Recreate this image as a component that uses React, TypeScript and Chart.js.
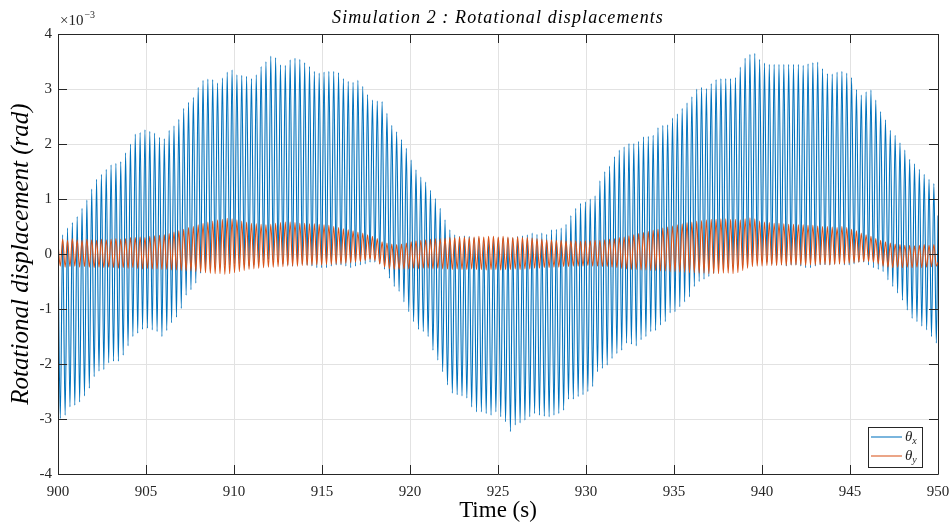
import React, { useEffect, useRef } from "react";
import { Chart, registerables } from "chart.js";

Chart.register(...registerables);

// ---------- data (values in units of 1e-3 rad, as read on the axis) ----------
const xTickValues = [900, 905, 910, 915, 920, 925, 930, 935, 940, 945, 950];
const yTickValues = [-4, -3, -2, -1, 0, 1, 2, 3, 4];

const titleText = "Simulation 2 : Rotational displacements";
const xAxisLabel = "Time (s)";
const yAxisLabel = "Rotational displacement (rad)";
const seriesSymbol = "θ";
const seriesSubscripts = ["x", "y"];
const yScaleExponent = "−3";

const timeStart = 900;
const timeEnd = 950;
const firstTroughTime = 900.13;
const firstPeakTime = 900.265;
const cyclePeriod = 0.275;

// theta_x: value at start, successive peaks and troughs of each cycle, value at end
const thetaXStart = 0.25;
const thetaXEnd = 0.7;
const thetaXPeaks = [
  0.35, 0.47, 0.57, 0.68, 0.83, 0.98, 1.18, 1.36, 1.45, 1.54, 1.62, 1.65, 1.68, 1.84, 2.0,
  2.18, 2.21, 2.26, 2.23, 2.2, 2.12, 2.1, 2.25, 2.33, 2.45, 2.65, 2.76, 2.85, 3.03, 3.16,
  3.18, 3.17, 3.11, 3.2, 3.31, 3.35, 3.26, 3.25, 3.23, 3.19, 3.26, 3.41, 3.5, 3.6, 3.57,
  3.44, 3.43, 3.53, 3.56, 3.54, 3.48, 3.41, 3.32, 3.29, 3.31, 3.32, 3.32, 3.3, 3.19, 3.14,
  3.12, 3.16, 3.05, 2.9, 2.8, 2.78, 2.77, 2.56, 2.34, 2.22, 2.08, 1.92, 1.71, 1.53, 1.4,
  1.31, 1.16, 1.01, 0.83, 0.62, 0.44, 0.35, 0.32, 0.33, 0.32, 0.29, 0.29, 0.25, 0.25, 0.28,
  0.29, 0.29, 0.29, 0.29, 0.32, 0.33, 0.35, 0.38, 0.36, 0.38, 0.36, 0.44, 0.45, 0.47, 0.54,
  0.7, 0.83, 0.92, 0.95, 1.0, 1.06, 1.33, 1.5, 1.6, 1.77, 1.89, 1.95, 2.01, 2.01, 2.05,
  2.13, 2.14, 2.16, 2.3, 2.34, 2.35, 2.47, 2.55, 2.65, 2.75, 2.86, 3.0, 3.03, 3.01, 3.1,
  3.17, 3.19, 3.19, 3.19, 3.21, 3.4, 3.56, 3.63, 3.65, 3.54, 3.47, 3.45, 3.45, 3.45, 3.45,
  3.45, 3.45, 3.45, 3.43, 3.46, 3.48, 3.49, 3.37, 3.28, 3.27, 3.31, 3.32, 3.29, 3.21, 2.99,
  2.89, 2.95, 2.98, 2.8, 2.59, 2.44, 2.25, 2.16, 2.02, 1.89, 1.72, 1.64, 1.54, 1.45, 1.36, 1.28,
];
const thetaXTroughs = [
  -2.99, -2.93, -2.78, -2.75, -2.69, -2.58, -2.44, -2.23, -2.13, -2.1, -1.98, -1.95, -1.95, -1.84, -1.67,
  -1.5, -1.44, -1.37, -1.35, -1.38, -1.41, -1.5, -1.39, -1.25, -1.15, -0.99, -0.75, -0.65, -0.53, -0.35,
  -0.3, -0.28, -0.25, -0.22, -0.2, -0.2, -0.18, -0.18, -0.2, -0.22,
  -0.2, -0.15, -0.12, -0.1, -0.12, -0.15, -0.18, -0.2, -0.22, -0.2,
  -0.18, -0.2, -0.22, -0.25, -0.25, -0.25, -0.22, -0.2, -0.2, -0.22,
  -0.25, -0.22, -0.2, -0.18, -0.15, -0.15, -0.18, -0.28,
  -0.44, -0.59, -0.68, -0.87, -1.05, -1.23, -1.37, -1.41, -1.5, -1.75, -1.93, -2.14,
  -2.38, -2.53, -2.56, -2.58, -2.62, -2.78, -2.87, -2.87, -2.9, -2.93, -2.87, -2.96,
  -3.05, -3.23, -3.11, -3.07, -3.02, -2.96, -2.9, -2.93, -2.95, -2.96, -2.93, -2.9, -2.84, -2.64, -2.64,
  -2.59, -2.56, -2.5, -2.41, -2.14, -2.08, -2.02, -1.9, -1.81, -1.75, -1.62, -1.64, -1.67, -1.56, -1.5,
  -1.41, -1.39, -1.29, -1.23, -1.07, -1.05, -0.96, -0.87, -0.78, -0.59, -0.5, -0.46, -0.41, -0.35,
  -0.3, -0.28, -0.25, -0.22, -0.2, -0.2, -0.18, -0.15, -0.12, -0.12,
  -0.15, -0.18, -0.2, -0.2, -0.22, -0.2, -0.2, -0.22, -0.25, -0.25,
  -0.22, -0.2, -0.2, -0.2, -0.18, -0.18, -0.2, -0.2, -0.18, -0.15,
  -0.15, -0.2, -0.25, -0.28,
  -0.32, -0.47, -0.59, -0.71, -0.84, -1.02, -1.17, -1.23, -1.31, -1.38, -1.5, -1.62,
];

// theta_y
const thetaYStart = 0.2;
const thetaYEnd = -0.15;
const thetaYPeaks = [
  0.27, 0.25, 0.28, 0.26, 0.25, 0.27, 0.26, 0.25, 0.27, 0.26, 0.27, 0.28, 0.27,
  0.28, 0.3, 0.3, 0.31, 0.3, 0.32, 0.33,
  0.34, 0.35, 0.37, 0.4, 0.42, 0.45, 0.48, 0.5,
  0.53, 0.56, 0.58, 0.6, 0.62, 0.63, 0.65,
  0.64, 0.62, 0.6, 0.58, 0.56, 0.55, 0.54, 0.53,
  0.54, 0.56, 0.57, 0.58, 0.58, 0.57, 0.56, 0.56, 0.55, 0.55, 0.54, 0.53, 0.52, 0.5,
  0.48, 0.46, 0.44, 0.42, 0.4, 0.38, 0.35,
  0.32, 0.28, 0.22, 0.2, 0.18,
  0.17, 0.18, 0.2, 0.22, 0.24, 0.25, 0.26,
  0.27, 0.28, 0.28, 0.29, 0.3, 0.3, 0.31, 0.31, 0.3, 0.31, 0.32, 0.31, 0.32, 0.32, 0.31, 0.32, 0.31, 0.3, 0.31, 0.3, 0.3, 0.29,
  0.28, 0.27, 0.26, 0.26, 0.25, 0.25, 0.24, 0.24, 0.24, 0.23, 0.24, 0.24, 0.25,
  0.25, 0.26, 0.27, 0.28, 0.3, 0.31, 0.33, 0.35,
  0.37, 0.39, 0.41, 0.43, 0.45, 0.47, 0.49, 0.51, 0.53, 0.55,
  0.57, 0.58, 0.6, 0.61, 0.62, 0.63, 0.63, 0.64, 0.64, 0.63, 0.63, 0.62,
  0.64, 0.66, 0.64, 0.6,
  0.58, 0.57, 0.56, 0.56, 0.55, 0.54, 0.54, 0.53, 0.53, 0.52, 0.52, 0.51, 0.5, 0.5, 0.49, 0.48, 0.5, 0.48,
  0.45, 0.42, 0.38, 0.35, 0.32, 0.28, 0.25, 0.22, 0.2,
  0.18, 0.17, 0.16, 0.16, 0.15, 0.16, 0.17, 0.16, 0.17,
];
const thetaYTroughs = [
  -0.22, -0.24, -0.23, -0.22, -0.24, -0.23, -0.24, -0.25, -0.24, -0.25, -0.24, -0.25, -0.26,
  -0.25, -0.26, -0.25, -0.26, -0.27, -0.26, -0.27,
  -0.27, -0.28, -0.28, -0.29, -0.29, -0.3, -0.31, -0.31,
  -0.32, -0.33, -0.34, -0.35, -0.36, -0.36, -0.37,
  -0.36, -0.34, -0.32, -0.3, -0.28, -0.27, -0.26, -0.25,
  -0.24, -0.24, -0.23, -0.23, -0.22, -0.22, -0.22, -0.21, -0.21, -0.2, -0.2, -0.2, -0.19, -0.19,
  -0.18, -0.18, -0.17, -0.16, -0.15, -0.14, -0.12,
  -0.1, -0.12, -0.18, -0.24, -0.27,
  -0.28, -0.28, -0.27, -0.27, -0.26, -0.27, -0.26,
  -0.26, -0.27, -0.26, -0.27, -0.27, -0.28, -0.27, -0.28, -0.28, -0.27, -0.28, -0.28, -0.29, -0.28, -0.28, -0.29, -0.28, -0.28, -0.27, -0.28, -0.27, -0.27,
  -0.26, -0.26, -0.25, -0.25, -0.24, -0.24, -0.23, -0.23, -0.22, -0.22, -0.22, -0.21, -0.22,
  -0.22, -0.23, -0.23, -0.24, -0.25, -0.26, -0.27, -0.28,
  -0.28, -0.29, -0.29, -0.3, -0.3, -0.31, -0.31, -0.32, -0.32, -0.33,
  -0.33, -0.34, -0.34, -0.35, -0.35, -0.36, -0.36, -0.36, -0.35, -0.35, -0.36, -0.34,
  -0.3, -0.26, -0.23, -0.22,
  -0.22, -0.21, -0.21, -0.21, -0.2, -0.21, -0.2, -0.2, -0.2, -0.21, -0.2, -0.2, -0.19, -0.19, -0.2, -0.19, -0.18, -0.18,
  -0.17, -0.16, -0.15, -0.14, -0.14, -0.15, -0.18, -0.22, -0.24,
  -0.25, -0.24, -0.25, -0.24, -0.25, -0.24, -0.25, -0.24, -0.23, -0.22,
];

// ---------- styling ----------
const BLUE = "#0072BD";
const ORANGE = "#D95319";
const AXIS_COLOR = "#262626";
const GRID_COLOR = "#e2e2e2";
const SERIF = "'Liberation Serif', 'DejaVu Serif', serif";
const W = 951;
const H = 524;

type Pt = { x: number; y: number };

function buildSeries(start: number, peaks: number[], troughs: number[], end: number): Pt[] {
  const pts: Pt[] = [{ x: timeStart, y: start }];
  for (let i = 0; i < troughs.length; i++) {
    pts.push({ x: firstTroughTime + i * cyclePeriod, y: troughs[i] });
    if (i < peaks.length) pts.push({ x: firstPeakTime + i * cyclePeriod, y: peaks[i] });
  }
  pts.push({ x: timeEnd, y: end });
  return pts;
}

const decorPlugin = {
  id: "matlabDecor",
  afterDatasetsDraw(chart: any) {
    const { ctx, chartArea } = chart;
    const { left, right, top, bottom } = chartArea;
    const xs = chart.scales.x;
    const ys = chart.scales.y;
    ctx.save();
    // box
    ctx.strokeStyle = AXIS_COLOR;
    ctx.lineWidth = 1;
    ctx.beginPath();
    ctx.rect(Math.round(left) + 0.5, Math.round(top) + 0.5, Math.round(right - left), Math.round(bottom - top));
    ctx.stroke();
    // inward ticks
    const tl = 9;
    ctx.beginPath();
    for (const v of xTickValues) {
      const px = Math.round(xs.getPixelForValue(v)) + 0.5;
      ctx.moveTo(px, bottom);
      ctx.lineTo(px, bottom - tl);
      ctx.moveTo(px, top);
      ctx.lineTo(px, top + tl);
    }
    for (const v of yTickValues) {
      const py = Math.round(ys.getPixelForValue(v)) + 0.5;
      ctx.moveTo(left, py);
      ctx.lineTo(left + tl, py);
      ctx.moveTo(right, py);
      ctx.lineTo(right - tl, py);
    }
    ctx.stroke();

    // legend
    const lx = 868, ly = 427, lw = 54, lh = 40;
    ctx.fillStyle = "#ffffff";
    ctx.fillRect(lx, ly, lw, lh);
    ctx.strokeStyle = AXIS_COLOR;
    ctx.lineWidth = 1;
    ctx.strokeRect(lx + 0.5, ly + 0.5, lw, lh);
    const colors = [BLUE, ORANGE];
    for (let i = 0; i < 2; i++) {
      const yy = ly + 10 + i * 19;
      ctx.strokeStyle = colors[i];
      ctx.globalAlpha = 0.75;
      ctx.lineWidth = 1.4;
      ctx.beginPath();
      ctx.moveTo(lx + 3, yy);
      ctx.lineTo(lx + 34, yy);
      ctx.stroke();
      ctx.globalAlpha = 1;
      ctx.fillStyle = AXIS_COLOR;
      ctx.textBaseline = "middle";
      ctx.textAlign = "left";
      ctx.font = `italic 15px ${SERIF}`;
      ctx.fillText(seriesSymbol, lx + 37, yy);
      const w = ctx.measureText(seriesSymbol).width;
      ctx.font = `italic 10px ${SERIF}`;
      ctx.fillText(seriesSubscripts[i], lx + 37 + w, yy + 4);
    }

    // title
    ctx.fillStyle = "#000000";
    ctx.textAlign = "center";
    ctx.textBaseline = "middle";
    ctx.font = `italic 18px ${SERIF}`;
    (ctx as any).letterSpacing = "1.1px";
    ctx.fillText(titleText, (left + right) / 2, 18);
    (ctx as any).letterSpacing = "0px";

    // x label
    ctx.font = `23px ${SERIF}`;
    ctx.fillText(xAxisLabel, (left + right) / 2, 511);

    // y label
    ctx.save();
    ctx.translate(21, (top + bottom) / 2);
    ctx.rotate(-Math.PI / 2);
    ctx.font = `italic 25px ${SERIF}`;
    ctx.fillText(yAxisLabel, 0, 0);
    ctx.restore();

    // exponent
    ctx.fillStyle = AXIS_COLOR;
    ctx.textAlign = "left";
    ctx.textBaseline = "alphabetic";
    ctx.font = `15px ${SERIF}`;
    const base = "×10";
    ctx.fillText(base, left + 2, 25);
    const bw = ctx.measureText(base).width;
    ctx.font = `10px ${SERIF}`;
    ctx.fillText(yScaleExponent, left + 3 + bw, 18);
    ctx.restore();
  },
};

export default function App() {
  const canvasRef = useRef<HTMLCanvasElement | null>(null);

  useEffect(() => {
    const canvas = canvasRef.current;
    if (!canvas) return;
    const chart = new Chart(canvas, {
      type: "line",
      data: {
        datasets: [
          {
            label: "θx",
            data: buildSeries(thetaXStart, thetaXPeaks, thetaXTroughs, thetaXEnd),
            borderColor: BLUE,
            borderWidth: 1.1,
            pointRadius: 0,
            cubicInterpolationMode: "monotone",
            order: 2,
          },
          {
            label: "θy",
            data: buildSeries(thetaYStart, thetaYPeaks, thetaYTroughs, thetaYEnd),
            borderColor: ORANGE,
            borderWidth: 1.1,
            pointRadius: 0,
            cubicInterpolationMode: "monotone",
            order: 1,
          },
        ],
      },
      options: {
        responsive: false,
        animation: false,
        devicePixelRatio: 1,
        layout: { padding: { top: 34, right: 13, left: 0, bottom: 0 } },
        plugins: {
          legend: { display: false },
          tooltip: { enabled: false },
          title: { display: false },
        },
        scales: {
          x: {
            type: "linear",
            min: timeStart,
            max: timeEnd,
            afterBuildTicks: (s: any) => {
              s.ticks = xTickValues.map((v) => ({ value: v }));
            },
            afterFit: (s: any) => {
              s.height = 50;
              s.paddingLeft = 0;
              s.paddingRight = 0;
            },
            grid: { color: GRID_COLOR, drawTicks: false, lineWidth: 1 },
            border: { display: false },
            ticks: {
              font: { family: SERIF, size: 15 },
              color: AXIS_COLOR,
              padding: 9,
              maxRotation: 0,
              autoSkip: false,
            },
          },
          y: {
            type: "linear",
            min: -4,
            max: 4,
            afterBuildTicks: (s: any) => {
              s.ticks = yTickValues.map((v) => ({ value: v }));
            },
            afterFit: (s: any) => {
              s.width = 58;
              s.paddingTop = 0;
              s.paddingBottom = 0;
            },
            grid: { color: GRID_COLOR, drawTicks: false, lineWidth: 1 },
            border: { display: false },
            ticks: {
              font: { family: SERIF, size: 15 },
              color: AXIS_COLOR,
              padding: 6,
              autoSkip: false,
            },
          },
        },
      },
      plugins: [decorPlugin],
    });
    return () => chart.destroy();
  }, []);

  return (
    <div style={{ position: "fixed", left: 0, top: 0, width: W, height: H, background: "#ffffff" }}>
      <canvas ref={canvasRef} width={W} height={H} style={{ width: W, height: H, display: "block" }} />
    </div>
  );
}
